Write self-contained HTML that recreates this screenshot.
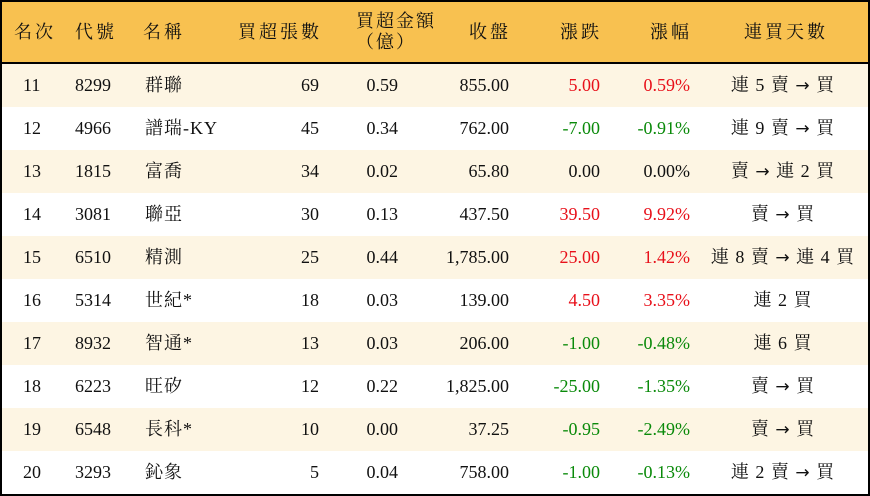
<!DOCTYPE html>
<html><head><meta charset="utf-8"><style>
body{margin:0;width:870px;height:496px;overflow:hidden;background:#fff}
.t{position:absolute;left:0;top:0;width:866px;height:492px;border:2px solid #000;font-family:"Liberation Serif","Noto Serif CJK SC",serif;font-size:18px;color:#111}
.h{position:absolute;left:0;top:0;width:866px;height:60px;background:#F8C150;border-bottom:2px solid #000}
.r{position:absolute;left:0;width:866px;height:43px}
.c{position:absolute;top:0;line-height:43px;white-space:nowrap}
.h .c{line-height:60px;letter-spacing:3px}
.red{color:#e8101a}.grn{color:#0a8a0a}
.a{font-family:"DejaVu Sans",sans-serif;font-size:17px}
</style></head><body><div class="t">
<div class="h">
<div class="c" style="left:12px">名次</div>
<div class="c" style="left:73px">代號</div>
<div class="c" style="left:141px">名稱</div>
<div class="c" style="right:546px">買超張數</div>
<div class="c" style="left:354px;width:54px;line-height:21px;top:9px;text-align:center;letter-spacing:2px">買超金額<br>（億）</div>
<div class="c" style="right:357px">收盤</div>
<div class="c" style="right:266px">漲跌</div>
<div class="c" style="right:176px">漲幅</div>
<div class="c" style="left:742px">連買天數</div>
</div>
<div id="rows"></div>
</div>
<script>
var d=[["11","8299","群聯","69","0.59","855.00","5.00","0.59%","連 5 賣 → 買",1],
["12","4966","譜瑞-KY","45","0.34","762.00","-7.00","-0.91%","連 9 賣 → 買",-1],
["13","1815","富喬","34","0.02","65.80","0.00","0.00%","賣 → 連 2 買",0],
["14","3081","聯亞","30","0.13","437.50","39.50","9.92%","賣 → 買",1],
["15","6510","精測","25","0.44","1,785.00","25.00","1.42%","連 8 賣 → 連 4 買",1],
["16","5314","世紀*","18","0.03","139.00","4.50","3.35%","連 2 買",1],
["17","8932","智通*","13","0.03","206.00","-1.00","-0.48%","連 6 買",-1],
["18","6223","旺矽","12","0.22","1,825.00","-25.00","-1.35%","賣 → 買",-1],
["19","6548","長科*","10","0.00","37.25","-0.95","-2.49%","賣 → 買",-1],
["20","3293","鈊象","5","0.04","758.00","-1.00","-0.13%","連 2 賣 → 買",-1]];
var h="";d.forEach(function(x,i){var cl=x[9]>0?"red":x[9]<0?"grn":"";
var s=x[8].replace("→",'<span class="a">→</span>');
h+='<div class="r" style="top:'+(62+i*43)+'px;background:'+(i%2?'#fff':'#FDF5E3')+'">'+
'<div class="c" style="left:21px">'+x[0]+'</div><div class="c" style="left:73px">'+x[1]+'</div><div class="c" style="left:143px;letter-spacing:1px">'+x[2]+'</div>'+
'<div class="c" style="right:549px">'+x[3]+'</div><div class="c" style="right:470px">'+x[4]+'</div><div class="c" style="right:359px">'+x[5]+'</div>'+
'<div class="c '+cl+'" style="right:268px">'+x[6]+'</div><div class="c '+cl+'" style="right:178px">'+x[7]+'</div>'+
'<div class="c" style="left:690px;width:182px;text-align:center;letter-spacing:1px">'+s+'</div></div>';});
document.getElementById("rows").innerHTML=h;
</script></body></html>
